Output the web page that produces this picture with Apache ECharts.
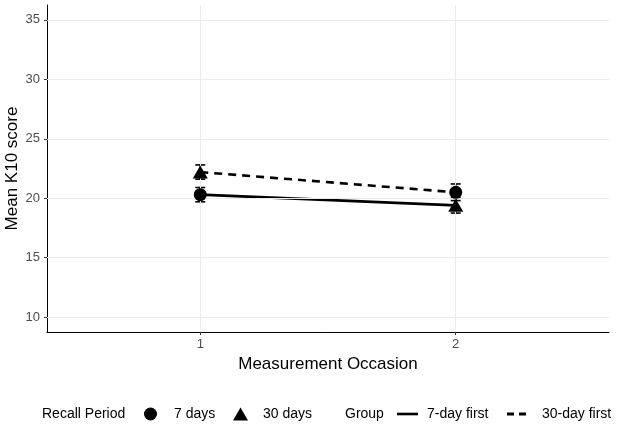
<!DOCTYPE html>
<html>
<head>
<meta charset="utf-8">
<script src="https://cdn.jsdelivr.net/npm/echarts@6/dist/echarts.min.js"></script>
<style>
html,body{margin:0;padding:0;background:#fff;}
#chart{width:618px;height:425px;}
</style>
</head>
<body>
<div id="chart"></div>
<script>
// ---- data ----
var occasions = [1, 2];
var xTickLabels = ['1', '2'];
var yTickValues = [10, 15, 20, 25, 30, 35];

var groupNames = ['7-day first', '30-day first'];
var group7Means = [20.3, 19.4];
var group7Err = [0.6, 0.65];
var group7Recall = ['7 days', '30 days'];
var group30Means = [22.2, 20.5];
var group30Err = [0.6, 0.7];
var group30Recall = ['30 days', '7 days'];

var recallNames = ['7 days', '30 days'];

// ---- build ----
var FONT = 'Liberation Sans, Arial, sans-serif';
function pts(means){ return occasions.map(function(x,i){ return [x, means[i]]; }); }
function recallPts(name){
  var out = [];
  occasions.forEach(function(x,i){
    if (group7Recall[i] === name) out.push([x, group7Means[i]]);
    if (group30Recall[i] === name) out.push([x, group30Means[i]]);
  });
  return out;
}
var errData = [];
occasions.forEach(function(x,i){
  errData.push([x, group7Means[i]-group7Err[i], group7Means[i]+group7Err[i]]);
  errData.push([x, group30Means[i]-group30Err[i], group30Means[i]+group30Err[i]]);
});

var LEG_FS = 14;
var LEG_TOP = 407;
function legendItem(name, icon, left, w, h, pad){
  return {
    data:[{name:name, icon:icon}], left:left, top:LEG_TOP, height:18,
    itemWidth:w, itemHeight:h, selectedMode:false, padding:0,
    textStyle:{fontSize:LEG_FS, color:'#000', fontFamily:FONT, padding:[0,0,0,pad]}
  };
}

var chart = echarts.init(document.getElementById('chart'), null, {renderer:'canvas'});
var gridLineStyle = {color:'#ebebeb', width:1, type:'solid'};
var option = {
  animation:false,
  backgroundColor:'#ffffff',
  textStyle:{fontFamily:FONT},
  grid:{left:47, right:9, top:5, bottom:93, containLabel:false, outerBoundsMode:'none'},
  xAxis:{
    type:'value', min:0.4, max:2.6,
    name:'Measurement Occasion', nameLocation:'middle', nameGap:24, nameMoveOverlap:false,
    nameTextStyle:{fontSize:17, color:'#000', fontFamily:FONT},
    axisLine:{show:true, onZero:false, lineStyle:{color:'#000', width:1}},
    axisTick:{show:true, customValues:occasions, length:3, lineStyle:{color:'#333'}},
    axisLabel:{customValues:occasions, color:'#4d4d4d', fontSize:13, margin:6, fontFamily:FONT,
      formatter:function(v){ var i = occasions.indexOf(v); return i>=0 ? xTickLabels[i] : ''; }},
    splitLine:{show:false}
  },
  yAxis:{
    type:'value', min:8.75, max:36.25,
    name:'Mean K10 score', nameLocation:'middle', nameGap:26, nameRotate:90, nameMoveOverlap:false,
    nameTextStyle:{fontSize:17, color:'#000', fontFamily:FONT},
    axisLine:{show:true, onZero:false, lineStyle:{color:'#000', width:1}},
    axisTick:{show:true, customValues:yTickValues, length:3, lineStyle:{color:'#333'}},
    axisLabel:{customValues:yTickValues, color:'#4d4d4d', fontSize:13, margin:7, fontFamily:FONT},
    splitLine:{show:false}
  },
  legend:[
    legendItem('7 days', 'circle', 144, 13, 13, 12),
    legendItem('30 days', 'triangle', 233, 15, 13, 10),
    legendItem('7-day first', 'path://M0,0 L24,0 L24,3 L0,3 Z', 397, 21, 3, 4),
    legendItem('30-day first', 'path://M0,0 L7,0 L7,3 L0,3 Z M12,0 L19,0 L19,3 L12,3 Z', 507, 19, 3, 11)
  ],
  graphic:[
    {type:'text', left:42, top:407, style:{text:'Recall Period', fontSize:LEG_FS, fill:'#000', fontFamily:FONT}},
    {type:'text', left:345, top:407, style:{text:'Group', fontSize:LEG_FS, fill:'#000', fontFamily:FONT}}
  ],
  series:[
    {
      name:'grid', type:'line', data:[], silent:true, z:0,
      markLine:{
        silent:true, symbol:'none', label:{show:false},
        lineStyle:gridLineStyle, animation:false,
        data: yTickValues.map(function(v){ return {yAxis:v}; })
          .concat(occasions.map(function(v){ return {xAxis:v}; }))
      }
    },
    {
      name:groupNames[0], type:'line', data:pts(group7Means), symbol:'none',
      lineStyle:{color:'#000', width:2.6, type:'solid'}, itemStyle:{color:'#000'}, z:3
    },
    {
      name:groupNames[1], type:'line', data:pts(group30Means), symbol:'none',
      lineStyle:{color:'#000', width:2.6, type:[8,6]}, itemStyle:{color:'#000'}, z:3
    },
    {
      name:'errors', type:'custom', z:4,
      renderItem:function(params, api){
        var x = api.value(0);
        var lo = api.coord([x, api.value(1)]);
        var hi = api.coord([x, api.value(2)]);
        var w = 5;
        var st = {stroke:'#000', lineWidth:1.6};
        return {type:'group', children:[
          {type:'line', shape:{x1:lo[0], y1:lo[1], x2:hi[0], y2:hi[1]}, style:st},
          {type:'line', shape:{x1:lo[0]-w, y1:lo[1], x2:lo[0]+w, y2:lo[1]}, style:st},
          {type:'line', shape:{x1:hi[0]-w, y1:hi[1], x2:hi[0]+w, y2:hi[1]}, style:st}
        ]};
      },
      encode:{x:0, y:[1,2]},
      data:errData
    },
    {
      name:recallNames[0], type:'scatter', data:recallPts(recallNames[0]),
      symbol:'circle', symbolSize:13, itemStyle:{color:'#000', opacity:1}, z:5
    },
    {
      name:recallNames[1], type:'scatter', data:recallPts(recallNames[1]),
      symbol:'triangle', symbolSize:[15,13], itemStyle:{color:'#000', opacity:1}, z:5
    }
  ]
};
chart.setOption(option);
</script>
</body>
</html>
